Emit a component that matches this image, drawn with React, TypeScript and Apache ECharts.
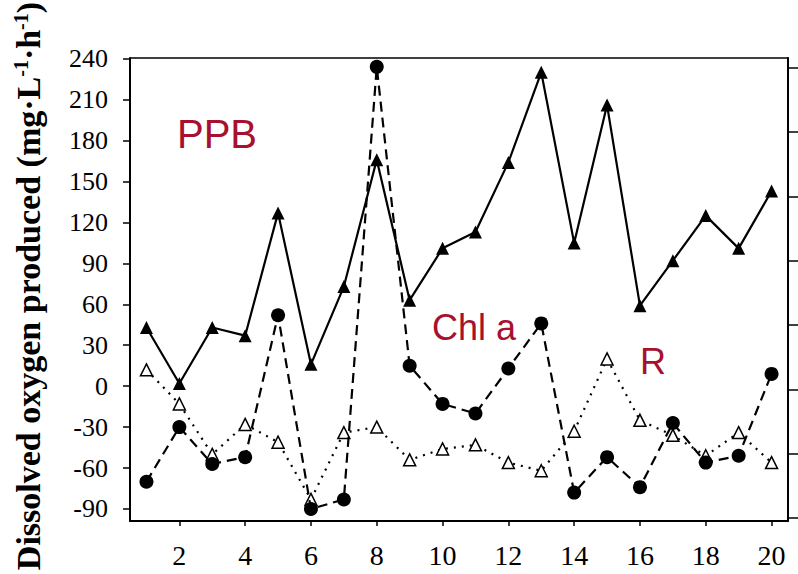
import React, { useEffect, useRef } from "react";
import * as echarts from "echarts";

const xValues = [1, 2, 3, 4, 5, 6, 7, 8, 9, 10, 11, 12, 13, 14, 15, 16, 17, 18, 19, 20];
const ppb = [43, 2, 43, 37, 127, 16, 73, 166, 63, 101, 113, 164, 230, 105, 206, 59, 92, 125, 101, 143];
const chla = [-70, -30, -57, -52, 52, -90, -83, 234, 15, -13, -20, 13, 46, -78, -52, -74, -27, -56, -51, 9];
const resp = [12, -13, -50, -28, -41, -83, -34, -30, -54, -46, -43, -56, -62, -33, 20, -25, -36, -51, -34, -56];
const xTicks = [2, 4, 6, 8, 10, 12, 14, 16, 18, 20];
const yTicks = [-90, -60, -30, 0, 30, 60, 90, 120, 150, 180, 210, 240];
const rightTicks = [0, 1, 2, 3, 4, 5, 6, 7];

const SERIF = '"Liberation Serif", "Times New Roman", serif';
const SANS = '"Liberation Sans", Arial, sans-serif';
const RED = "#a8102f";

export default function App() {
  const ref = useRef<HTMLDivElement>(null);
  useEffect(() => {
    document.body.style.margin = "0";
    const chart = echarts.init(ref.current!, null, { renderer: "svg" });
    const pts = (arr: number[]) => xValues.map((x, i) => [x, arr[i]]);
    chart.setOption({
      animation: false,
      backgroundColor: "#ffffff",
      grid: { left: 130, right: 10, top: 58, bottom: 53 },
      xAxis: [
        {
          type: "value",
          min: 0.5,
          max: 20.5,
          position: "bottom",
          axisLine: { onZero: false, lineStyle: { color: "#000", width: 2 } },
          axisTick: { customValues: xTicks, length: 5, lineStyle: { color: "#000", width: 1.5 } },
          axisLabel: { customValues: xTicks, fontFamily: SERIF, fontSize: 28, color: "#000", margin: 20 },
          splitLine: { show: false },
        },
        {
          type: "value",
          min: 0.5,
          max: 20.5,
          position: "top",
          axisLine: { onZero: false, lineStyle: { color: "#000", width: 1.5 } },
          axisTick: { show: false },
          axisLabel: { show: false },
          splitLine: { show: false },
        },
      ],
      yAxis: [
        {
          type: "value",
          min: -98.8,
          max: 240.5,
          position: "left",
          axisLine: { show: true, onZero: false, lineStyle: { color: "#000", width: 2 } },
          axisTick: { show: true, customValues: yTicks, length: 7, lineStyle: { color: "#000", width: 1.5 } },
          axisLabel: { customValues: yTicks, fontFamily: SERIF, fontSize: 26, color: "#000", margin: 22 },
          splitLine: { show: false },
        },
        {
          type: "value",
          min: -0.047,
          max: 7.153,
          position: "right",
          axisLine: { show: true, onZero: false, lineStyle: { color: "#000", width: 2 } },
          axisTick: { show: true, customValues: rightTicks, length: 10, lineStyle: { color: "#000", width: 1.5 } },
          axisLabel: { show: false },
          splitLine: { show: false },
        },
      ],
      series: [
        {
          name: "R",
          type: "line",
          xAxisIndex: 0,
          yAxisIndex: 0,
          data: pts(resp),
          symbol: "triangle",
          symbolSize: 12,
          itemStyle: { color: "#fff", borderColor: "#000", borderWidth: 1.5 },
          lineStyle: { color: "#000", width: 2.2, type: [2, 6] },
          emphasis: { disabled: true },
          z: 2,
        },
        {
          name: "Chl a",
          type: "line",
          xAxisIndex: 0,
          yAxisIndex: 0,
          data: pts(chla),
          symbol: "circle",
          symbolSize: 14,
          itemStyle: { color: "#000" },
          lineStyle: { color: "#000", width: 2.2, type: [10, 6] },
          emphasis: { disabled: true },
          z: 3,
        },
        {
          name: "PPB",
          type: "line",
          xAxisIndex: 0,
          yAxisIndex: 0,
          data: pts(ppb),
          symbol: "triangle",
          symbolSize: 13,
          itemStyle: { color: "#000" },
          lineStyle: { color: "#000", width: 2.2 },
          emphasis: { disabled: true },
          z: 4,
        },
      ],
      graphic: [
        {
          type: "text",
          x: 28,
          y: 286,
          rotation: Math.PI / 2,
          style: {
            text: "Dissolved oxygen produced (mg·L{sup|-1}·h{sup|-1})",
            fontFamily: SERIF,
            fontWeight: "bold",
            fontSize: 34,
            fill: "#000",
            align: "center",
            verticalAlign: "middle",
            rich: {
              sup: { fontFamily: SERIF, fontWeight: "bold", fontSize: 20, fill: "#000", verticalAlign: "top" },
            },
          },
        },
        {
          type: "text",
          x: 177,
          y: 134,
          style: { text: "PPB", fontFamily: SANS, fontSize: 40, fill: RED, align: "left", verticalAlign: "middle" },
        },
        {
          type: "text",
          x: 432,
          y: 327,
          style: { text: "Chl a", fontFamily: SANS, fontSize: 36, fill: RED, align: "left", verticalAlign: "middle" },
        },
        {
          type: "text",
          x: 640,
          y: 361,
          style: { text: "R", fontFamily: SANS, fontSize: 36, fill: RED, align: "left", verticalAlign: "middle" },
        },
      ],
    });
    return () => chart.dispose();
  }, []);
  return <div ref={ref} style={{ position: "absolute", left: 0, top: 0, width: 798, height: 574 }} />;
}
